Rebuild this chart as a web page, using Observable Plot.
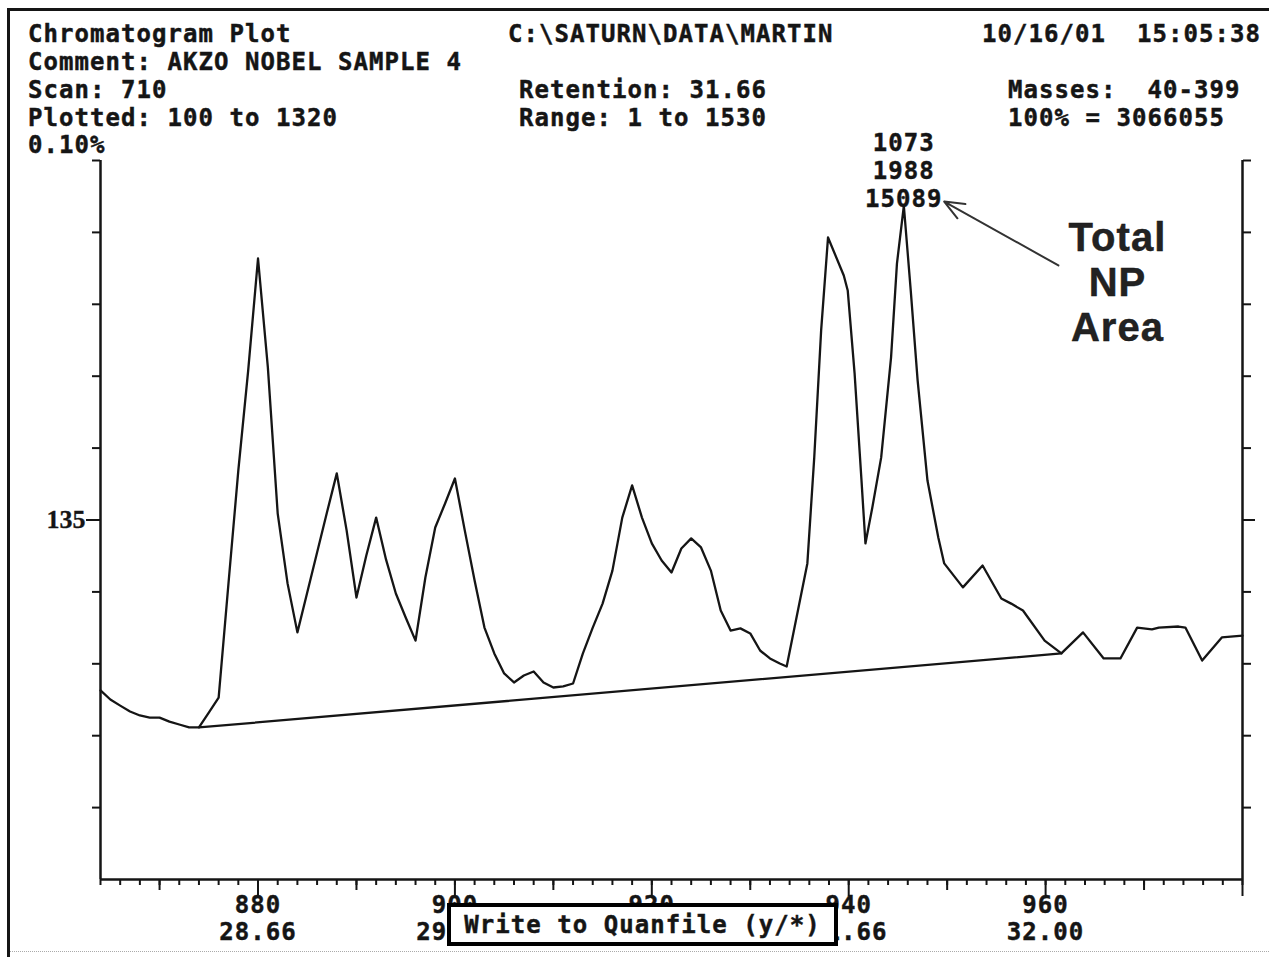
<!DOCTYPE html>
<html>
<head>
<meta charset="utf-8">
<script src="https://cdn.jsdelivr.net/npm/d3@7"></script>
<script src="https://cdn.jsdelivr.net/npm/@observablehq/plot@0.6"></script>
<style>
  html, body { margin: 0; padding: 0; background: #fff; }
  #page { position: relative; width: 1269px; height: 957px; overflow: hidden; background: #fff; }
  .mono { position: absolute; font-family: "DejaVu Sans Mono", monospace; font-weight: bold; font-size: 24px;
          letter-spacing: 1.05px; white-space: pre; color: #151515; line-height: 23px; z-index: 2;
          -webkit-text-stroke: 0.45px #151515; }
  #chart { position: absolute; left: 0; top: 130px; z-index: 1; }
  #chart svg text { letter-spacing: 1.05px; stroke: #151515; stroke-width: 0.45px; }
  #chart svg g[aria-label="np-note"] text, #chart svg g[aria-label="y-axis tick label"] text { letter-spacing: 0; stroke-width: 0.3px; }
  .bt { position: absolute; left: 7px; top: 8px; width: 1262px; height: 3px; background: #151515; z-index: 2; }
  .bl { position: absolute; left: 7px; top: 8px; width: 3px; height: 949px; background: #151515; z-index: 2; }
  .bb { position: absolute; left: 10px; top: 951px; width: 1259px; height: 0; border-top: 1px dotted #aaa; z-index: 2; }
  #quan { position: absolute; left: 447px; top: 903px; width: 383px; height: 35px; border: 4px solid #000;
          background: #fff; z-index: 3; text-align: center; font-family: "DejaVu Sans Mono", monospace;
          font-weight: bold; font-size: 24px; letter-spacing: 1.05px; line-height: 37px; white-space: pre; color: #151515;
          -webkit-text-stroke: 0.45px #151515; }
</style>
</head>
<body>
<div id="page">
  <div id="chart"></div>
  <div class="bt"></div><div class="bl"></div><div class="bb"></div>
  <div id="quan"></div>
</div>
<script>
// ---- header texts ----
const headerLeft   = ["Chromatogram Plot", "Comment: AKZO NOBEL SAMPLE 4", "Scan: 710", "Plotted: 100 to 1320", "0.10%"];
const headerMiddle = ["C:\\SATURN\\DATA\\MARTIN", "", "Retention: 31.66", "Range: 1 to 1530", ""];
const headerRight  = ["10/16/01  15:05:38", "", "Masses:  40-399", "100% = 3066055", ""];
const dialogText = "Write to Quanfile (y/*)";

// ---- chromatogram trace (scan number, abundance) ----
const chromScans = [864,865,866,867,868,869,870,871,872,873,874,875,876,877,878,879,880,881,882,883,
  884,885,886,887,888,889,890,891,892,893,894,895,896,897,898,899,900,901,902,903,
  904,905,906,907,908,909,910,911,912,913,914,915,916,917,918,919,920,921,922,923,
  924,925,926,927,928,929,930,931,932,933,
  933.7,935.8,936.5,937.2,937.9,939.5,939.9,940.6,941.3,941.7,942.4,943.3,944.3,944.9,945.6,946.3,947.0,948.0,949.1,949.7,
  951.6,953.6,955.5,956.5,957.7,959.9,961.6,963.8,965.9,967.6,969.3,970.8,971.5,973.5,974.2,975.9,977.9,980];
const chromValues = [71.0,67.6,65.3,63.1,61.6,60.8,60.8,59.3,58.2,57.1,
  57.1,62.7,68.3,111.2,153.6,191.1,233.2,192.3,137.4,111.2,
  92.8,107.8,122.8,137.8,152.5,131.1,105.9,121.7,135.9,120.2,
  107.4,98.4,89.7,113.4,132.2,141.2,150.6,131.1,112.3,94.6,
  84.9,77.4,74.0,76.6,78.1,74.0,72.1,72.5,73.6,84.9,
  94.6,103.6,116.0,135.9,148.0,135.9,126.2,119.8,115.3,124.3,
  128.1,124.7,116.0,101.0,93.5,94.3,92.4,86.0,83.0,81.1,
  80.0,118.7,158.5,206.2,241.1,226.8,221.2,190.0,149.8,126.2,
  139.7,158.5,196.0,231.3,253.0,221.2,187.4,149.8,128.4,118.7,
  109.7,117.9,105.5,103.6,101.0,89.7,84.9,92.8,83.0,83.0,
  94.6,93.9,94.6,95.0,94.6,82.2,90.9,91.6];

// ---- integration baseline ----
const baselineScans = [874, 961.6];
const baselineValues = [57.1, 84.9];

// ---- peak annotation ----
const peakLabel = {scan: 945.6, value: 253.0, text: "1073\n1988\n15089"};
const arrowFrom = {scan: 961.3, value: 230.6};
const arrowTo = {scan: 949.7, value: 254.6};
const noteText = {scan: 967.3, value: 224.6, text: "Total\nNP\nArea"};

// ---- axes ----
const xDomain = [864, 980];
const yDomain = [0, 270];
const xMinorTicks = [864,866,868,870,872,874,876,878,880,882,884,886,888,890,892,894,896,898,900,902,904,906,908,910,
  912,914,916,918,920,922,924,926,928,930,932,934,936,938,940,942,944,946,948,950,952,954,956,958,960,962,964,966,968,
  970,972,974,976,978,980];
const xMidTicks = [870, 890, 910, 930, 950, 970];
const xMajorTicks = [880, 900, 920, 940, 960, 980];
const xLabelScans = [880, 900, 920, 940, 960];
const xLabelTimes = ["28.66", "29.50", "30.33", "31.66", "32.00"];
const yTicks = [27, 54, 81, 108, 135, 162, 189, 216, 243, 270];
const yLabelled = [135];

// header
const page = document.getElementById("page");
const lineTops = [22.7, 50.7, 78.7, 106.7, 134.2];
const colLefts = [28, 519, 1008];
[headerLeft, headerMiddle, headerRight].forEach((col, c) => {
  col.forEach((t, i) => {
    if (!t) return;
    const s = document.createElement("div");
    s.className = "mono";
    s.textContent = t;
    let left = colLefts[c];
    if (c === 1 && i === 0) left = 508;
    if (c === 2 && i === 0) left = 982;
    s.style.left = left + "px";
    s.style.top = lineTops[i] + "px";
    page.appendChild(s);
  });
});
document.getElementById("quan").textContent = dialogText;

const trace = chromScans.map((s, i) => ({scan: s, value: chromValues[i]}));
const baseline = baselineScans.map((s, i) => ({scan: s, value: baselineValues[i]}));
const xLabels = xLabelScans.map((s, i) => ({scan: s, text: s + "\n" + xLabelTimes[i]}));

const ink = "#151515";
const chart = Plot.plot({
  width: 1269,
  height: 827,
  marginLeft: 100,
  marginRight: 27,
  marginTop: 30,
  marginBottom: 78,
  x: {domain: xDomain, axis: null},
  y: {domain: yDomain, axis: null},
  style: {fontFamily: '"DejaVu Sans Mono", monospace', fontWeight: "bold", fontSize: "24px", color: ink, background: "transparent", overflow: "visible"},
  marks: [
    Plot.axisX(xMinorTicks, {anchor: "bottom", tickSize: 6, tickFormat: () => "", label: null, stroke: ink, strokeWidth: 2}),
    Plot.axisX(xMidTicks, {anchor: "bottom", tickSize: 11, tickFormat: () => "", label: null, stroke: ink, strokeWidth: 2}),
    Plot.axisX(xMajorTicks, {anchor: "bottom", tickSize: 17, tickFormat: () => "", label: null, stroke: ink, strokeWidth: 2}),
    Plot.text(xLabels, {x: "scan", text: "text", frameAnchor: "bottom", lineAnchor: "top", dy: 15, lineHeight: 1.1, fill: ink}),
    Plot.axisY(yTicks, {anchor: "left", tickSize: 8, tickFormat: () => "", label: null, stroke: ink, strokeWidth: 2}),
    Plot.axisY(yTicks, {anchor: "right", tickSize: 8, tickFormat: () => "", label: null, stroke: ink, strokeWidth: 2}),
    Plot.axisY(yLabelled, {anchor: "left", tickSize: 14, tickPadding: 1, label: null, stroke: ink, strokeWidth: 2,
      fontFamily: '"Liberation Serif", serif', fontSize: 26, fontWeight: "bold", fill: ink}),
    Plot.axisY(yLabelled, {anchor: "right", tickSize: 12, tickFormat: () => "", label: null, stroke: ink, strokeWidth: 2}),
    Plot.ruleY([0], {stroke: ink, strokeWidth: 2.5}),
    Plot.ruleX([xDomain[0], xDomain[1]], {y1: yDomain[0], y2: yDomain[1], stroke: ink, strokeWidth: 2.5}),
    Plot.line(baseline, {x: "scan", y: "value", stroke: ink, strokeWidth: 2.3}),
    Plot.line(trace, {x: "scan", y: "value", stroke: ink, strokeWidth: 2.3}),
    Plot.text([peakLabel], {x: "scan", y: "value", text: "text", lineAnchor: "bottom", lineHeight: 1.167, dy: 1, fill: ink}),
    Plot.arrow([{a: arrowFrom, b: arrowTo}], {x1: d => d.a.scan, y1: d => d.a.value, x2: d => d.b.scan, y2: d => d.b.value,
      stroke: "#333", strokeWidth: 2, headLength: 16, headAngle: 45}),
    Plot.text([noteText], {x: "scan", y: "value", text: "text", lineAnchor: "middle", lineHeight: 1.13,
      fontFamily: '"Liberation Sans", Arial, sans-serif', fontSize: 40, fontWeight: "bold", fill: "#222", ariaLabel: "np-note"})
  ]
});
document.getElementById("chart").appendChild(chart);
</script>
</body>
</html>
